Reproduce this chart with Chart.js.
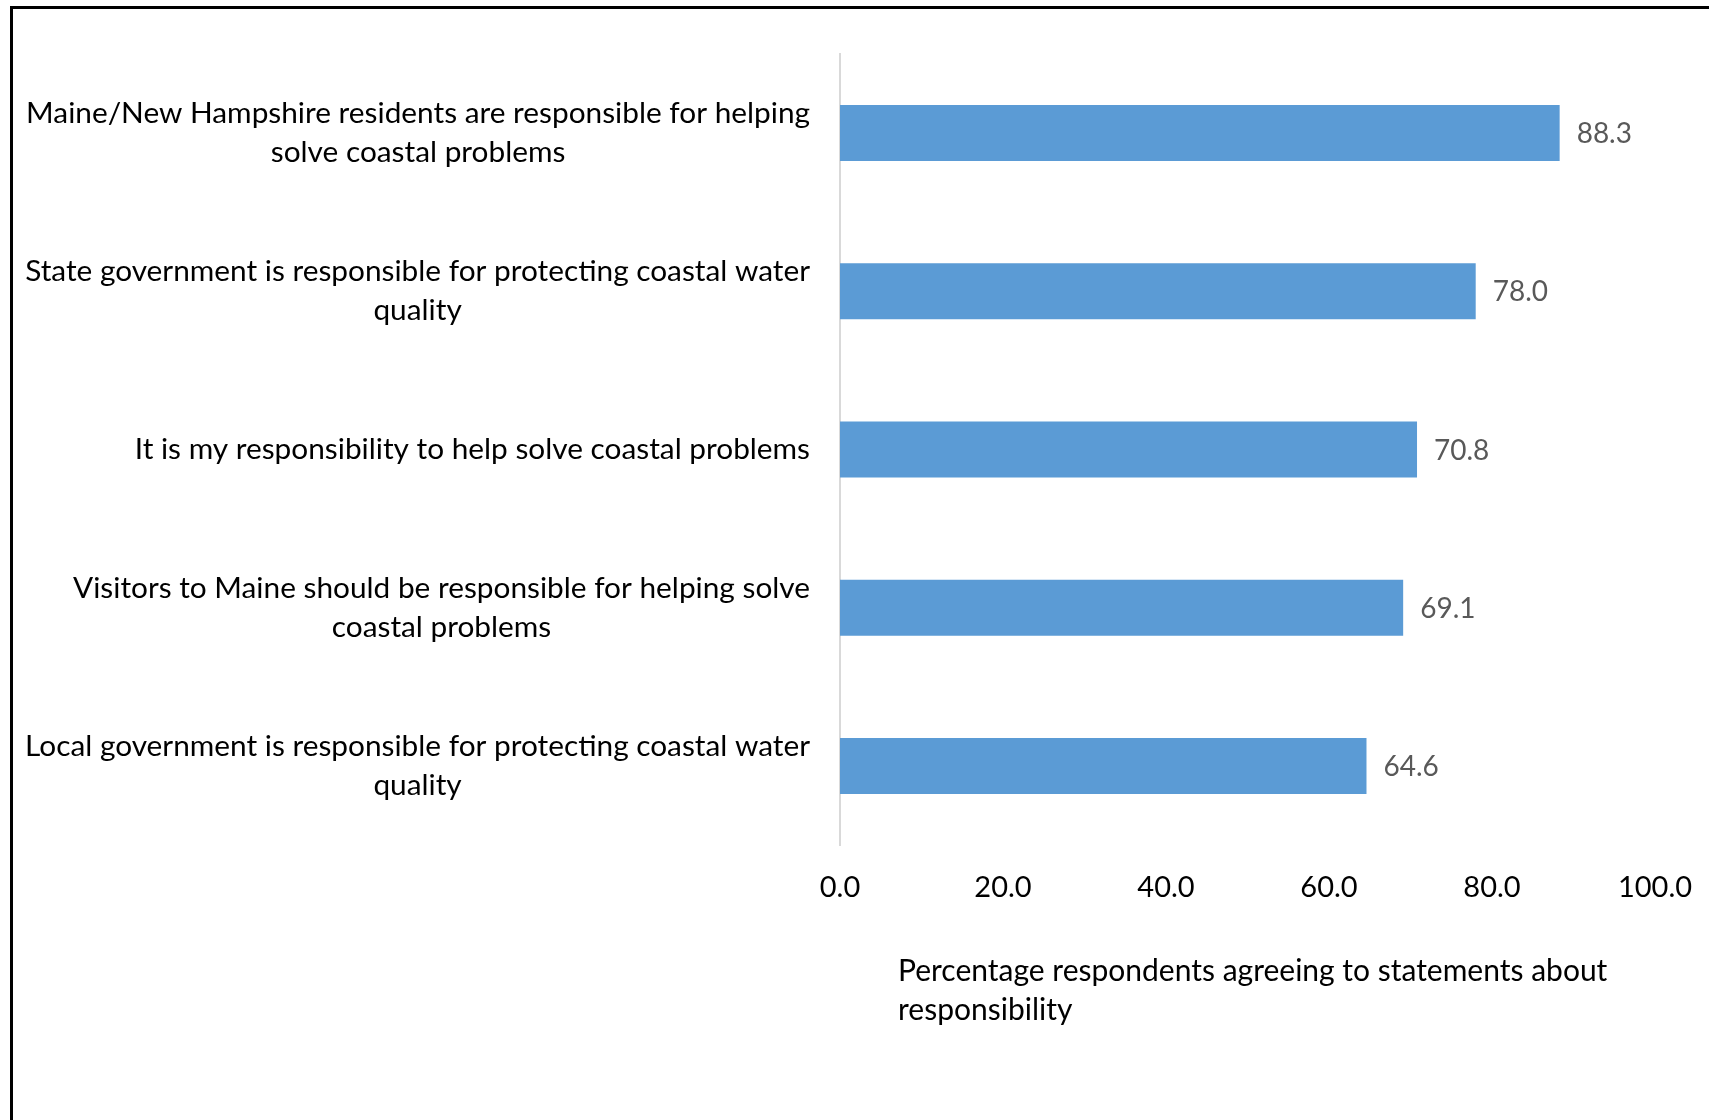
<!DOCTYPE html>
<html>
<head>
<meta charset="utf-8">
<script src="https://cdn.jsdelivr.net/npm/chart.js@4"></script>
<style>
  html, body { margin: 0; padding: 0; background: #fff; overflow: hidden; }
  #frame {
    position: absolute; left: 10px; top: 6px; width: 1760px; height: 1200px;
    border-left: 3px solid #000; border-top: 3px solid #000;
  }
  #myChart { position: absolute; left: 0; top: 0; }
</style>
</head>
<body>
<div id="frame"></div>
<canvas id="myChart" width="1709" height="1120"></canvas>
<script>
// statements (each one is a list of lines)
const categories = [
    ["Maine/New Hampshire residents are responsible for helping", "solve coastal problems"],
    ["State government is responsible for protecting coastal water", "quality"],
    ["It is my responsibility to help solve coastal problems"],
    ["Visitors to Maine should be responsible for helping solve", "coastal problems"],
    ["Local government is responsible for protecting coastal water", "quality"]
];
const agreeValues = [88.3, 78.0, 70.8, 69.1, 64.6];
const xTicks = [0, 20, 40, 60, 80, 100];
const axisTitle = ["Percentage respondents agreeing to statements about", "responsibility"];

const FONT = "Lato, 'Open Sans', sans-serif";
const barColor = "#5B9BD5";

// category labels: block right aligned, lines centred inside the block
const categoryLabels = {
    id: 'categoryLabels',
    afterDraw(chart) {
        const ctx = chart.ctx;
        const yScale = chart.scales.y;
        const right = chart.chartArea.left - 30;
        const lineH = 39;
        ctx.save();
        ctx.font = "29.8px " + FONT;
        ctx.fillStyle = "#000";
        ctx.textBaseline = "middle";
        ctx.textAlign = "center";
        categories.forEach((lines, i) => {
            const yc = yScale.getPixelForTick(i);
            const widest = Math.max(...lines.map(l => ctx.measureText(l).width));
            const cx = right - widest / 2;
            const y0 = yc - (lines.length - 1) * lineH / 2;
            lines.forEach((l, j) => ctx.fillText(l, cx, y0 + j * lineH));
        });
        ctx.restore();
    }
};

const valueLabels = {
    id: 'valueLabels',
    afterDatasetsDraw(chart) {
        const ctx = chart.ctx;
        const meta = chart.getDatasetMeta(0);
        ctx.save();
        ctx.font = "28px " + FONT;
        ctx.fillStyle = "#595959";
        ctx.textBaseline = "middle";
        ctx.textAlign = "left";
        meta.data.forEach((bar, i) => {
            ctx.fillText(agreeValues[i].toFixed(1), bar.x + 17, bar.y + 1);
        });
        ctx.restore();
    }
};

const xTitle = {
    id: 'xTitle',
    afterDraw(chart) {
        const ctx = chart.ctx;
        ctx.save();
        ctx.font = "30px " + FONT;
        ctx.fillStyle = "#000";
        ctx.textBaseline = "middle";
        ctx.textAlign = "left";
        axisTitle.forEach((l, j) => ctx.fillText(l, chart.chartArea.left + 58, 971 + j * 39));
        ctx.restore();
    }
};

const ctx = document.getElementById('myChart').getContext('2d');
const myChart = new Chart(ctx, {
    type: 'bar',
    data: {
        labels: categories,
        datasets: [{
            data: agreeValues,
            backgroundColor: barColor,
            barPercentage: 0.354,
            categoryPercentage: 1.0
        }]
    },
    options: {
        indexAxis: 'y',
        responsive: false,
        animation: false,
        layout: { padding: { top: 54, right: 54, left: 0, bottom: 0 } },
        plugins: {
            legend: { display: false },
            tooltip: { enabled: false }
        },
        scales: {
            x: {
                min: 0,
                max: 100,
                afterBuildTicks: (scale) => { scale.ticks = xTicks.map(v => ({ value: v })); },
                grid: { display: false, drawTicks: false },
                border: { display: false },
                ticks: {
                    font: { family: FONT, size: 29 },
                    color: "#000",
                    padding: 25,
                    maxRotation: 0,
                    callback: (v) => Number(v).toFixed(1)
                },
                afterFit: (scale) => {
                    scale.height = 275;
                    // keep label padding from pushing the plot area in
                    scale.paddingLeft = 0;
                    scale.paddingRight = 0;
                }
            },
            y: {
                grid: { display: false, drawTicks: false },
                border: { display: true, color: "#d9d9d9", width: 2 },
                ticks: { display: false },
                afterFit: (scale) => { scale.width = 840; }
            }
        }
    },
    plugins: [categoryLabels, valueLabels, xTitle]
});
</script>
</body>
</html>
